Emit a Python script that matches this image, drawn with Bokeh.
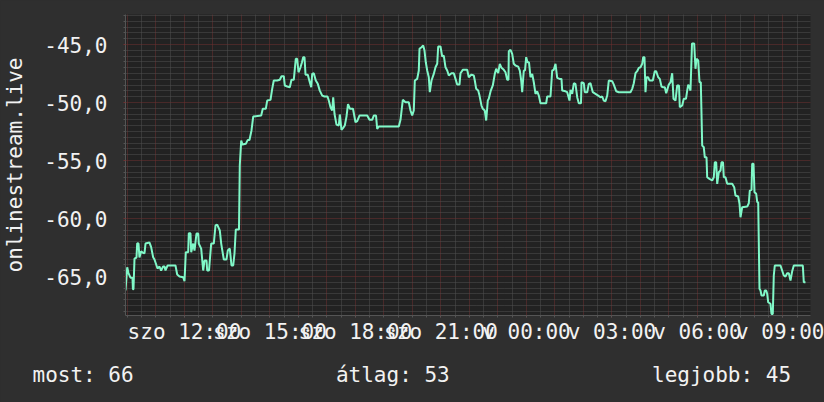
from bokeh.plotting import figure
from bokeh.models import Range1d, FixedTicker, Title
from bokeh.embed import file_html
from bokeh.resources import INLINE

# ---- data (hours since Saturday 00:00, signal in dB) ----
times = [
    9.930, 9.990, 10.035, 10.105, 10.175, 10.190, 10.210, 10.246, 10.316, 10.340,
    10.386, 10.420, 10.480, 10.526, 10.596, 10.632, 10.772, 10.830, 10.900, 10.947,
    11.018, 11.053, 11.123, 11.180, 11.250, 11.300, 11.333, 11.404, 11.684, 11.744,
    11.825, 11.954, 12.000, 12.046, 12.130, 12.151, 12.210, 12.235, 12.305, 12.351,
    12.421, 12.481, 12.502, 12.586, 12.656, 12.702, 12.772, 12.796, 12.860, 12.888,
    12.937, 13.028, 13.088, 13.147, 13.239, 13.288, 13.379, 13.474, 13.519, 13.589,
    13.649, 13.709, 13.754, 13.800, 13.870, 13.912, 13.940, 13.990, 14.035, 14.151,
    14.221, 14.280, 14.351, 14.411, 14.691, 14.747, 14.853, 14.902, 15.018, 15.077,
    15.133, 15.253, 15.344, 15.404, 15.484, 15.519, 15.604, 15.695, 15.754, 15.835,
    15.905, 15.954, 16.000, 16.070, 16.120, 16.165, 16.211, 16.246, 16.326, 16.396,
    16.446, 16.481, 16.537, 16.607, 16.677, 16.747, 16.832, 16.912, 17.018, 17.063,
    17.123, 17.182, 17.218, 17.263, 17.333, 17.414, 17.449, 17.509, 17.568, 17.625,
    17.684, 17.737, 17.807, 17.912, 18.000, 18.060, 18.140, 18.411, 18.491, 18.586,
    18.642, 18.720, 18.761, 18.818, 19.519, 19.579, 19.660, 19.754, 19.870, 19.930,
    19.989, 20.046, 20.081, 20.165, 20.221, 20.246, 20.316, 20.375, 20.421, 20.467,
    20.516, 20.572, 20.607, 20.667, 20.747, 20.807, 20.867, 20.902, 20.982, 21.042,
    21.098, 21.158, 21.218, 21.274, 21.368, 21.449, 21.509, 21.568, 21.649, 21.684,
    21.765, 21.919, 21.975, 22.070, 22.151, 22.186, 22.235, 22.305, 22.351, 22.421,
    22.467, 22.537, 22.586, 22.642, 22.677, 22.747, 22.818, 22.888, 22.937, 23.007,
    23.063, 23.123, 23.204, 23.263, 23.323, 23.368, 23.379, 23.439, 23.498, 23.554,
    23.614, 23.709, 23.765, 23.814, 23.849, 23.905, 23.947, 23.989, 24.035, 24.088,
    24.140, 24.200, 24.256, 24.316, 24.375, 24.432, 24.491, 24.691, 24.726, 24.842,
    24.902, 24.958, 25.018, 25.077, 25.158, 25.228, 25.253, 25.368, 25.428, 25.509,
    25.544, 25.604, 25.660, 25.719, 25.779, 25.835, 25.912, 25.930, 26.011, 26.046,
    26.130, 26.186, 26.246, 26.326, 26.421, 26.516, 26.596, 26.656, 26.712, 26.772,
    26.832, 26.888, 27.007, 27.063, 27.147, 27.239, 27.649, 27.709, 27.765, 27.825,
    27.884, 27.940, 28.000, 28.060, 28.095, 28.140, 28.175, 28.211, 28.270, 28.316,
    28.432, 28.502, 28.551, 28.621, 28.677, 28.737, 28.782, 28.853, 28.902, 28.993,
    29.053, 29.112, 29.158, 29.228, 29.288, 29.351, 29.379, 29.463, 29.519, 29.596,
    29.639, 29.674, 29.719, 29.754, 29.807, 29.884, 29.930, 29.965, 30.025, 30.070,
    30.116, 30.165, 30.221, 30.256, 30.316, 30.340, 30.421, 30.516, 30.572, 30.607,
    30.656, 30.691, 30.747, 30.807, 30.842, 30.895, 30.923, 30.982, 31.042, 31.217,
    31.288, 31.333, 31.428, 31.474, 31.509, 31.568, 31.744, 31.800, 31.835, 31.895,
    31.919, 31.965, 32.000, 32.060, 32.095, 32.130, 32.175, 32.211, 32.246, 32.326,
    32.361, 32.410, 32.446, 32.481, 32.561, 32.596, 32.642, 32.677, 32.712, 32.912,
    33.028, 33.088, 33.147, 33.204, 33.263, 33.323, 33.379, 33.695, 33.730, 33.789,
]

signal = [
    -66.2, -64.2, -64.7, -65.1, -65.1, -66.1, -66.1, -63.45, -63.36, -62.13,
    -62.16, -63.36, -62.82, -62.93, -63.0, -62.16, -62.07, -62.47, -63.34, -63.53,
    -64.05, -64.31, -64.14, -64.48, -64.14, -64.14, -64.48, -64.05, -64.05, -64.83,
    -65.0, -65.06, -65.41, -62.9, -62.9, -61.27, -61.27, -62.9, -62.16, -62.76,
    -61.29, -61.29, -62.16, -62.59, -64.48, -63.62, -63.62, -64.48, -64.48, -63.62,
    -62.16, -62.16, -60.6, -60.52, -61.03, -62.16, -63.53, -63.53, -62.76, -62.59,
    -64.05, -64.05, -63.02, -60.95, -60.95, -60.95, -55.43, -53.28, -53.62, -53.56,
    -53.22, -53.23, -52.41, -51.21, -51.12, -50.54, -50.54, -49.83, -49.77, -48.82,
    -48.1, -48.1, -48.04, -47.73, -47.73, -48.53, -48.62, -48.68, -48.04, -48.04,
    -46.23, -46.23, -47.39, -46.96, -46.55, -46.09, -46.09, -47.61, -47.61, -48.25,
    -48.68, -47.53, -47.47, -48.1, -48.39, -48.97, -49.4, -49.48, -49.48, -49.83,
    -50.41, -50.69, -49.54, -50.97, -51.9, -51.98, -51.03, -52.35, -52.18, -51.98,
    -51.21, -50.13, -50.54, -50.54, -51.7, -51.61, -51.12, -51.12, -51.49, -51.49,
    -51.12, -51.12, -52.27, -52.07, -52.07, -51.49, -49.77, -49.97, -49.97, -50.69,
    -51.12, -50.69, -48.1, -47.96, -47.24, -45.37, -45.23, -45.09, -45.52, -46.53,
    -47.24, -47.82, -49.11, -48.1, -47.53, -46.96, -46.66, -45.17, -45.17, -46.03,
    -45.95, -46.96, -47.24, -47.67, -47.47, -47.47, -47.96, -48.45, -48.45, -47.47,
    -47.18, -47.18, -47.82, -47.59, -47.67, -48.1, -48.82, -48.97, -49.4, -50.26,
    -50.54, -50.69, -51.55, -49.83, -49.68, -48.97, -48.53, -47.53, -47.09, -47.47,
    -46.66, -47.01, -47.18, -47.39, -48.04, -48.04, -45.58, -45.46, -45.8, -46.66,
    -46.81, -46.9, -47.24, -48.1, -49.11, -47.24, -47.24, -46.09, -46.53, -46.53,
    -47.82, -47.53, -48.25, -49.25, -49.03, -49.4, -50.06, -50.06, -49.48, -49.48,
    -47.24, -47.18, -46.66, -47.87, -47.96, -47.96, -48.97, -49.03, -49.11, -49.83,
    -48.9, -49.25, -48.34, -48.39, -49.54, -50.06, -50.06, -48.25, -48.34, -49.11,
    -49.11, -48.39, -48.34, -49.11, -49.25, -49.4, -49.54, -49.48, -49.83, -49.89,
    -49.4, -48.1, -48.16, -48.45, -49.03, -49.11, -49.11, -48.82, -48.34, -47.47,
    -47.3, -47.01, -46.96, -46.66, -46.09, -46.09, -49.11, -47.82, -47.82, -48.1,
    -48.1, -47.3, -47.3, -47.82, -47.96, -48.62, -48.68, -48.68, -49.2, -48.45,
    -48.25, -47.47, -49.68, -49.83, -48.53, -48.53, -50.41, -50.26, -49.68, -49.68,
    -48.97, -48.45, -48.68, -48.97, -44.91, -44.91, -47.09, -46.23, -46.38, -48.25,
    -48.25, -53.71, -53.85, -54.72, -54.72, -56.44, -56.58, -56.72, -56.44, -55.15,
    -55.15, -57.01, -56.01, -55.86, -55.15, -55.15, -56.44, -56.44, -57.01, -57.01,
    -57.3, -58.02, -58.1, -58.73, -59.89, -59.03, -58.97, -58.68, -57.59, -57.53,
    -55.28, -55.28, -57.73, -57.87, -58.59, -58.59, -66.06, -66.21, -66.64, -66.64,
    -66.21, -66.21, -66.49, -67.22, -67.35, -68.22, -68.22, -64.91, -64.05, -64.05,
    -64.91, -65.0, -64.72, -64.72, -65.34, -64.54, -64.05, -64.05, -65.49, -65.49,
]

y_ticks = [-65, -60, -55, -50, -45]
y_labels = ["-65,0", "-60,0", "-55,0", "-50,0", "-45,0"]
x_ticks = [12, 15, 18, 21, 24, 27, 30, 33]
x_labels = ["szo 12:00", "szo 15:00", "szo 18:00", "szo 21:00",
            "v 00:00", "v 03:00", "v 06:00", "v 09:00"]
y_title = "onlinestream.live"
legend_names = ["most", "átlag", "legjobb"]
legend_values = [66, 53, 45]

assert len(times) == len(signal)

FONT = "DejaVu Sans Mono"
FS = "21px"
TXT = "#f2f2f2"
BG = "#2f2f2f"

p = figure(width=824, height=402, output_backend="svg", toolbar_location=None,
           x_range=Range1d(9.93, 33.965), y_range=Range1d(-68.36, -42.41),
           min_border_left=125, min_border_right=14, min_border_top=14,
           min_border_bottom=87)
p.border_fill_color = BG
p.background_fill_color = "#222222"
p.outline_line_color = None

# grids
hours = list(range(10, 34))
half_hours = [h + 0.5 for h in range(9, 34)]
y_half = [v / 2 for v in range(-137, -84) if v % 10 != 0]
p.xgrid.ticker = FixedTicker(ticks=hours, minor_ticks=half_hours)
p.ygrid.ticker = FixedTicker(ticks=y_ticks, minor_ticks=y_half)
for g in (p.xgrid, p.ygrid):
    g.grid_line_color = "#703030"
    g.grid_line_dash = "1 1"
    g.grid_line_width = 1
    g.minor_grid_line_color = "#505050"
    g.minor_grid_line_dash = "1 1"
    g.minor_grid_line_width = 1

# axes
p.yaxis.ticker = FixedTicker(ticks=y_ticks, minor_ticks=y_half)
p.yaxis.major_label_overrides = dict(zip(y_ticks, y_labels))
p.xaxis.ticker = FixedTicker(ticks=x_ticks, minor_ticks=half_hours + hours)
p.xaxis.major_label_overrides = dict(zip(x_ticks, x_labels))
for ax in (p.xaxis, p.yaxis):
    ax.axis_line_color = "#555555"
    ax.major_tick_line_color = "#703030"
    ax.minor_tick_line_color = "#555555"
    ax.major_tick_in = 0
    ax.major_tick_out = 2
    ax.minor_tick_in = 0
    ax.minor_tick_out = 2
    ax.major_label_text_font = FONT
    ax.major_label_text_font_size = FS
    ax.major_label_text_color = TXT
p.yaxis.major_label_standoff = 16
p.xaxis.major_label_standoff = 2
p.yaxis.axis_label = y_title
p.yaxis.axis_label_text_font = FONT
p.yaxis.axis_label_text_font_size = FS
p.yaxis.axis_label_text_font_style = "normal"
p.yaxis.axis_label_text_color = TXT
p.yaxis.axis_label_standoff = 14

p.line(times, signal, line_color="#80f8c8", line_width=2)

# summary line under the chart (monospace columns, non-breaking spaces)
gap = "\u00a0" * 16
parts = [f"{n}: {v}" for n, v in zip(legend_names, legend_values)]
summary = Title(text=gap.join(parts), align="left", offset=-93, standoff=28,
                text_font=FONT, text_font_size=FS, text_font_style="normal",
                text_color=TXT)
p.add_layout(summary, "below")

html = file_html(p, INLINE)
html = html.replace("</head>", "<style>html, body {background-color: %s;}</style>\n</head>" % BG, 1)
open("out.html", "w").write(html)
